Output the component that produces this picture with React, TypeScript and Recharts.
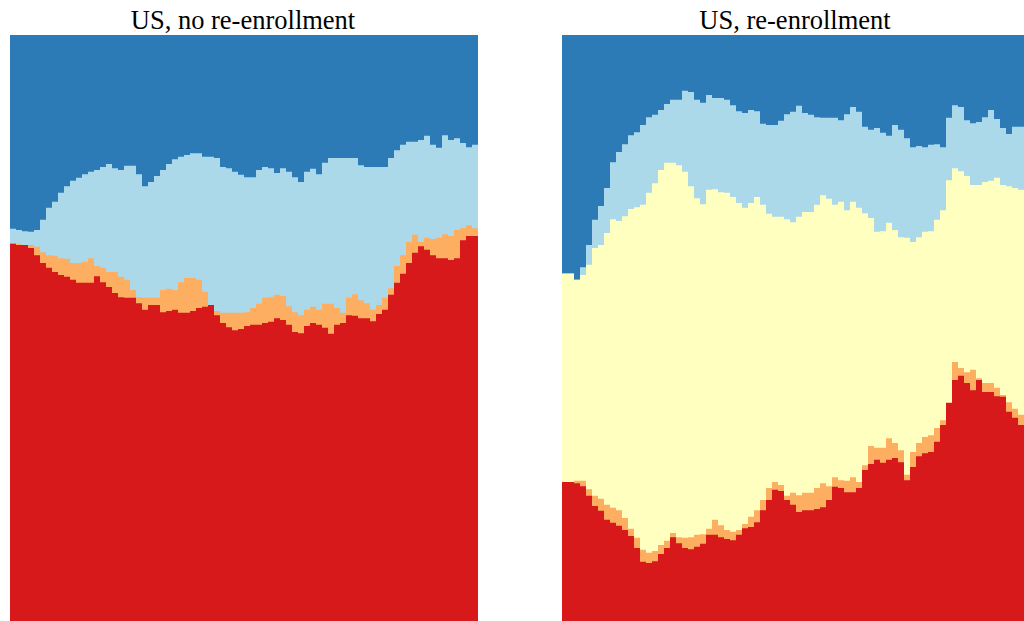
import { AreaChart, Area, XAxis, YAxis } from "recharts";

// cumulative share (%) at the top of each band, one value per time step

// US, no re-enrollment
const leftRed = [
  65.2, 65.0, 65.0, 64.5, 63.3, 62.0, 61.2, 60.5, 60.0, 59.7, 59.2, 58.7, 58.7, 58.7, 59.8, 58.8,
  58.0, 57.0, 56.3, 56.2, 56.2, 55.3, 54.2, 55.0, 55.0, 53.8, 54.0, 54.2, 53.7, 53.7, 54.0, 54.5,
  54.7, 55.0, 53.3, 52.0, 51.3, 50.8, 51.0, 51.5, 51.7, 51.7, 52.0, 52.2, 52.8, 52.5, 51.7, 50.5,
  50.3, 51.5, 52.0, 51.7, 51.2, 50.2, 51.7, 52.0, 53.3, 53.2, 52.8, 52.8, 52.3, 53.5, 54.2, 56.7,
  58.7, 60.2, 62.0, 63.7, 64.8, 64.2, 63.3, 62.8, 62.8, 62.5, 62.8, 65.8, 66.5, 66.5,
];
const leftOrange = [
  65.3, 65.2, 65.0, 65.0, 64.7, 63.8, 63.3, 63.2, 62.8, 62.7, 62.0, 62.0, 62.2, 62.8, 61.5, 61.2,
  60.5, 60.5, 59.7, 59.2, 57.5, 56.3, 56.2, 56.2, 56.2, 57.5, 57.7, 57.5, 58.8, 59.5, 59.5, 59.2,
  57.2, 55.0, 54.0, 53.7, 53.7, 53.7, 53.7, 53.8, 54.5, 55.2, 56.2, 56.3, 56.7, 56.5, 54.8, 53.8,
  53.3, 54.2, 54.7, 54.2, 55.2, 55.2, 54.5, 53.7, 56.2, 56.8, 55.8, 55.3, 54.2, 55.0, 56.2, 57.8,
  61.5, 63.3, 65.5, 66.7, 65.5, 66.2, 66.0, 66.2, 66.8, 66.5, 67.5, 67.8, 68.3, 67.8,
];
const leftLightBlue = [
  67.7, 67.5, 67.3, 67.2, 67.5, 69.2, 71.2, 72.2, 73.7, 74.8, 75.7, 76.2, 76.8, 77.2, 77.5, 78.0,
  78.5, 77.8, 77.5, 78.2, 78.2, 76.8, 74.8, 75.5, 76.5, 77.5, 78.5, 79.3, 79.7, 80.0, 80.3, 80.3,
  79.7, 79.7, 79.5, 78.0, 77.8, 77.2, 76.7, 76.3, 76.3, 77.5, 78.0, 77.8, 77.0, 77.8, 77.2, 76.3,
  75.5, 77.2, 77.7, 76.8, 78.7, 79.5, 79.5, 79.5, 79.5, 79.5, 78.3, 78.0, 78.0, 78.0, 78.0, 79.5,
  80.8, 81.7, 82.2, 82.2, 82.5, 83.2, 81.7, 81.2, 83.3, 82.5, 82.8, 82.0, 81.3, 81.7,
];

// US, re-enrollment
const rightRed = [
  25.5, 25.5, 25.3, 24.8, 23.2, 21.5, 20.7, 19.2, 18.7, 18.2, 17.5, 16.5, 14.5, 12.2, 12.0, 12.3,
  13.5, 14.5, 16.3, 15.3, 14.5, 14.3, 14.7, 15.2, 16.7, 16.7, 16.3, 16.0, 15.8, 16.7, 17.8, 18.0,
  18.8, 20.8, 22.5, 24.2, 24.0, 22.5, 21.7, 20.5, 20.8, 20.8, 21.0, 21.3, 22.5, 24.7, 24.5, 23.8,
  23.8, 24.5, 27.5, 28.5, 29.2, 28.7, 29.2, 29.5, 28.8, 25.8, 28.0, 29.8, 30.3, 30.5, 32.2, 35.0,
  38.7, 42.5, 43.2, 42.0, 40.8, 42.5, 40.5, 40.5, 39.8, 39.7, 37.2, 36.2, 35.0, 33.8,
];
const rightOrange = [
  25.5, 25.5, 25.7, 25.7, 24.3, 23.2, 22.7, 21.7, 21.2, 20.8, 19.5, 17.7, 16.2, 14.2, 13.7, 14.0,
  15.0, 15.7, 17.0, 16.3, 16.2, 16.3, 16.7, 16.8, 17.7, 19.2, 18.3, 17.5, 17.2, 17.5, 18.5, 19.7,
  20.8, 22.5, 24.5, 25.5, 25.0, 23.2, 23.7, 23.3, 23.7, 23.7, 24.5, 25.3, 24.8, 26.3, 25.8, 25.7,
  26.3, 25.5, 28.3, 31.5, 31.2, 31.2, 32.8, 32.0, 30.8, 26.7, 30.5, 32.0, 33.0, 33.3, 34.5, 35.8,
  38.3, 45.5, 44.5, 43.8, 44.2, 42.8, 42.0, 42.0, 41.2, 40.0, 38.8, 37.7, 36.7, 36.3,
];
const rightYellow = [
  60.2, 60.2, 59.2, 60.0, 61.7, 64.5, 65.0, 67.0, 69.3, 69.0, 69.8, 71.0, 71.3, 71.7, 73.7, 75.3,
  77.5, 78.7, 78.7, 78.3, 77.2, 74.8, 72.8, 71.8, 74.2, 74.3, 73.8, 73.7, 73.0, 72.0, 71.2, 72.0,
  73.0, 71.7, 70.2, 69.7, 69.7, 69.3, 68.8, 69.7, 70.5, 70.5, 71.7, 73.3, 72.7, 71.7, 72.2, 70.8,
  72.2, 71.2, 70.3, 69.5, 67.2, 67.3, 68.7, 67.5, 66.3, 66.2, 65.5, 66.3, 67.2, 67.3, 69.2, 70.8,
  75.8, 77.8, 77.3, 76.5, 75.0, 75.0, 75.5, 75.7, 76.2, 75.0, 74.8, 74.5, 74.2, 73.7,
];
const rightLightBlue = [
  60.3, 60.3, 59.2, 61.3, 65.0, 69.2, 71.5, 74.5, 78.8, 80.5, 81.8, 83.3, 83.8, 85.0, 86.3, 86.7,
  87.5, 88.5, 89.2, 89.2, 90.7, 90.5, 89.2, 88.7, 90.0, 89.5, 89.5, 89.2, 88.3, 87.3, 87.0, 87.5,
  87.3, 85.2, 85.0, 85.0, 85.7, 86.8, 87.2, 88.2, 87.0, 86.7, 86.3, 86.2, 86.2, 86.2, 85.8, 86.8,
  88.0, 87.2, 84.7, 84.2, 84.5, 83.7, 83.2, 85.0, 84.2, 82.8, 81.3, 81.5, 81.3, 81.7, 81.8, 81.3,
  86.2, 88.3, 88.0, 85.8, 85.3, 85.5, 86.3, 87.5, 86.0, 84.5, 83.5, 84.7, 84.7, 84.7,
];

const colors: Record<string, string> = {
  darkBlue: "#2c7bb6",
  lightBlue: "#abd9e9",
  yellow: "#ffffbf",
  orange: "#fdae61",
  red: "#d7191c",
};

// one row per step, plus a closing row so the last step has width
function buildRows(bands: Record<string, number[]>) {
  const n = Object.values(bands)[0].length;
  const rows: any[] = [];
  for (let i = 0; i <= n; i++) {
    const j = Math.min(i, n - 1);
    const row: any = { t: i, darkBlue: 100 };
    for (const k in bands) row[k] = bands[k][j];
    rows.push(row);
  }
  return rows;
}

const leftRows = buildRows({ red: leftRed, orange: leftOrange, lightBlue: leftLightBlue });
const rightRows = buildRows({
  red: rightRed,
  orange: rightOrange,
  yellow: rightYellow,
  lightBlue: rightLightBlue,
});

function Panel({ title, x, rows, keys }: { title: string; x: number; rows: any[]; keys: string[] }) {
  const n = rows.length - 1;
  return (
    <>
      <div
        style={{
          position: "absolute",
          left: x - 1,
          top: 7,
          width: 468,
          textAlign: "center",
          fontFamily: "'Liberation Serif', serif",
          fontSize: 26.5,
          lineHeight: 1,
          color: "#000",
          whiteSpace: "nowrap",
        }}
      >
        {title}
      </div>
      <div style={{ position: "absolute", left: x, top: 35 }}>
        <AreaChart width={468} height={600} data={rows} margin={{ top: 0, right: 0, bottom: 0, left: 0 }}>
          <XAxis dataKey="t" type="number" domain={[0, n]} hide height={0} />
          <YAxis type="number" domain={[0, 100]} hide width={0} />
          {keys.map((k) => (
            <Area
              key={k}
              dataKey={k}
              type="stepAfter"
              stroke="none"
              fill={colors[k]}
              fillOpacity={1}
              isAnimationActive={false}
            />
          ))}
        </AreaChart>
      </div>
    </>
  );
}

export default function App() {
  return (
    <div
      style={{
        position: "absolute",
        left: 0,
        top: 0,
        width: 1024,
        height: 621,
        overflow: "hidden",
        background: "#fff",
      }}
    >
      <Panel
        title="US, no re-enrollment"
        x={10}
        rows={leftRows}
        keys={["darkBlue", "lightBlue", "orange", "red"]}
      />
      <Panel
        title="US, re-enrollment"
        x={562}
        rows={rightRows}
        keys={["darkBlue", "lightBlue", "yellow", "orange", "red"]}
      />
    </div>
  );
}
